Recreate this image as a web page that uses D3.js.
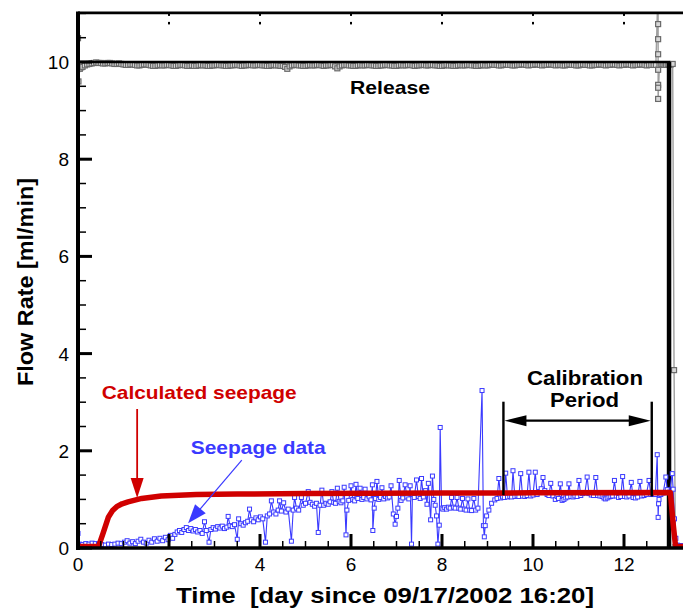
<!DOCTYPE html>
<html>
<head>
<meta charset="utf-8">
<script src="https://cdn.jsdelivr.net/npm/d3@7"></script>
<style>
  html, body { margin: 0; padding: 0; background: #fff; }
  svg { display: block; }
  text { font-family: "Liberation Sans", Arial, Helvetica, sans-serif; }
</style>
</head>
<body>
<svg id="chart" width="683" height="610"></svg>
<script>
// ---- data -------------------------------------------------------------
const xMajorTicks = [0, 2, 4, 6, 8, 10, 12];
const yMajorTicks = [0, 2, 4, 6, 8, 10];
const topTicks = [2, 4, 6, 8, 10, 12];

// measured seepage [day, ml/min]
const seepageData = [
  [0.00,0.30],[0.03,0.08],[0.10,0.07],[0.17,0.09],[0.24,0.08],[0.31,0.10],[0.38,0.09],[0.45,0.08],
  [0.52,0.07],[0.60,0.06],[0.67,0.08],[0.74,0.07],[0.81,0.08],[0.88,0.10],[0.95,0.09],[1.02,0.12],
  [1.08,0.15],[1.14,0.10],[1.20,0.13],[1.26,0.09],[1.32,0.14],[1.38,0.18],[1.44,0.12],[1.50,0.10],
  [1.56,0.16],[1.62,0.12],[1.68,0.19],[1.74,0.14],[1.80,0.20],[1.86,0.15],[1.92,0.22],[1.98,0.17],
  [2.03,0.26],[2.08,0.20],[2.13,0.28],[2.18,0.33],[2.23,0.36],[2.28,0.32],[2.33,0.38],[2.38,0.42],
  [2.43,0.36],[2.48,0.40],[2.53,0.35],[2.58,0.38],[2.63,0.33],[2.68,0.36],[2.73,0.30],[2.78,0.54],
  [2.82,0.36],[2.88,0.12],[2.92,0.38],[2.97,0.42],[3.02,0.39],[3.07,0.44],[3.12,0.41],[3.17,0.45],
  [3.22,0.40],[3.27,0.43],[3.30,0.65],[3.34,0.46],[3.39,0.44],[3.44,0.48],[3.50,0.18],[3.53,0.60],
  [3.58,0.50],[3.63,0.47],[3.68,0.52],[3.73,0.55],[3.77,0.80],[3.81,0.58],[3.86,0.54],[3.91,0.62],
  [3.96,0.58],[4.01,0.64],[4.06,0.60],[4.12,0.12],[4.16,0.66],[4.21,0.70],[4.25,0.97],[4.30,0.74],
  [4.35,0.70],[4.40,0.78],[4.43,0.97],[4.47,0.76],[4.52,0.93],[4.57,0.74],[4.62,0.80],[4.69,0.14],
  [4.73,0.78],[4.76,1.04],[4.80,0.82],[4.85,0.78],[4.91,1.04],[4.95,0.88],[5.00,0.92],[5.06,1.16],
  [5.10,0.94],[5.15,0.90],[5.20,0.86],[5.24,0.92],[5.28,0.32],[5.32,0.88],[5.36,1.19],[5.40,0.88],
  [5.45,0.92],[5.50,0.90],[5.54,0.95],[5.58,1.16],[5.62,0.94],[5.66,0.92],[5.70,1.23],[5.74,0.96],
  [5.78,0.93],[5.82,0.97],[5.85,1.25],[5.89,0.27],[5.91,0.78],[5.95,0.98],[6.00,1.28],[6.04,1.00],
  [6.08,0.97],[6.11,1.31],[6.15,1.02],[6.20,1.23],[6.24,1.00],[6.28,1.04],[6.31,1.21],[6.35,1.01],
  [6.40,1.05],[6.44,0.99],[6.47,1.30],[6.48,0.36],[6.51,0.82],[6.54,1.02],[6.57,1.37],[6.61,1.00],
  [6.65,1.04],[6.68,1.24],[6.72,1.01],[6.76,1.06],[6.80,1.03],[6.84,1.05],[6.88,1.28],[6.93,0.70],
  [6.97,0.49],[7.00,0.65],[7.03,0.82],[7.06,1.39],[7.10,0.98],[7.14,1.03],[7.19,1.30],[7.23,1.05],
  [7.27,1.01],[7.30,1.28],[7.33,0.08],[7.35,1.10],[7.39,1.04],[7.44,1.40],[7.48,1.06],[7.52,1.02],
  [7.55,1.43],[7.59,1.05],[7.64,1.18],[7.67,0.90],[7.70,1.33],[7.75,0.58],[7.79,1.48],[7.82,1.00],
  [7.85,0.88],[7.88,0.66],[7.91,0.08],[7.94,0.47],[7.96,2.48],[7.99,0.82],[8.02,0.80],[8.06,0.83],
  [8.10,0.80],[8.14,0.84],[8.18,0.82],[8.21,1.04],[8.25,0.84],[8.29,0.82],[8.33,1.04],[8.37,0.82],
  [8.41,0.80],[8.45,1.02],[8.49,0.80],[8.53,0.78],[8.57,1.01],[8.61,0.78],[8.65,0.77],[8.70,1.02],
  [8.74,0.78],[8.79,0.82],[8.88,3.24],[8.91,0.46],[8.93,0.23],[8.95,0.46],[8.98,0.66],[9.03,0.78],
  [9.09,0.92],[9.16,0.99],[9.21,1.02],[9.25,1.43],[9.29,1.03],[9.33,1.05],[9.37,1.04],[9.40,1.54],
  [9.44,1.05],[9.49,1.06],[9.53,1.05],[9.56,1.59],[9.60,1.06],[9.65,1.07],[9.69,1.06],[9.73,1.53],
  [9.77,1.07],[9.82,1.06],[9.87,1.08],[9.91,1.56],[9.95,1.07],[10.00,1.09],[10.05,1.56],[10.09,1.10],
  [10.14,1.16],[10.18,1.22],[10.22,1.45],[10.26,1.18],[10.31,1.10],[10.35,1.08],[10.39,1.33],[10.44,1.07],
  [10.49,1.00],[10.53,1.06],[10.56,1.02],[10.60,1.32],[10.64,0.98],[10.68,1.00],[10.72,1.03],[10.76,1.05],
  [10.79,1.32],[10.83,1.06],[10.88,1.05],[10.92,1.07],[10.97,1.06],[11.01,1.39],[11.05,1.08],[11.09,1.12],
  [11.14,1.13],[11.19,1.46],[11.23,1.12],[11.28,1.09],[11.33,1.08],[11.38,1.45],[11.42,1.08],[11.47,1.07],
  [11.52,1.06],[11.56,1.03],[11.59,1.01],[11.63,1.03],[11.67,1.05],[11.71,1.06],[11.75,1.07],[11.79,1.39],
  [11.83,1.07],[11.88,1.04],[11.93,1.06],[11.97,1.47],[12.01,1.06],[12.06,1.05],[12.11,1.07],[12.16,1.35],
  [12.20,1.04],[12.25,1.03],[12.30,1.05],[12.35,1.37],[12.39,1.07],[12.44,1.08],[12.49,1.10],[12.55,1.39],
  [12.59,1.10],[12.64,1.12],[12.69,1.10],[12.73,1.92],[12.75,0.63],[12.76,0.91],[12.77,1.00],[12.81,1.10],
  [12.86,1.13],[12.92,1.46],[12.95,1.20],[13.00,1.15],[13.06,1.53],[13.08,1.21],[13.11,0.60],[13.14,0.20],
  [13.17,0.06],[13.22,0.05],[13.28,0.05]
];

// calculated seepage [day, ml/min]
const calculatedData = [
  [0.00,0.03],[0.45,0.03],[0.55,0.30],[0.67,0.64],[0.76,0.77],[0.85,0.85],[0.97,0.91],[1.10,0.95],
  [1.40,1.02],[1.83,1.07],[2.60,1.10],[3.50,1.11],[5.00,1.12],[8.00,1.13],[10.00,1.135],[13.02,1.14],
  [13.08,0.50],[13.13,0.06],[13.17,0.03],[13.30,0.03]
];

// nominal release rate [day, ml/min]
const releaseSet = [[0.00,10.0],[12.99,10.0],[12.99,0.0]];

// measured release [day, ml/min]
const releaseData = [
  [0.00,10.49],[0.01,9.60],[0.04,9.86],[0.07,9.89],[0.10,9.90],[0.15,9.93],[0.20,9.95],[0.25,9.96],
  [0.30,9.97],[0.35,9.98],[0.40,9.99],[0.45,9.98],[0.50,9.98],[0.55,9.97],[0.60,9.97],[0.65,9.98],
  [0.70,9.98],[0.75,9.97],[0.80,9.96],[0.85,9.96],[0.90,9.97],[0.95,9.96],[1.00,9.95],[1.05,9.94],
  [1.10,9.94],[1.15,9.95],[1.20,9.95],[1.25,9.94],[1.30,9.93],[1.35,9.93],[1.40,9.94],[1.45,9.95],
  [1.50,9.95],[1.55,9.94],[1.60,9.93],[1.65,9.92],[1.70,9.92],[1.75,9.93],[1.80,9.94],[1.85,9.93],
  [1.90,9.93],[1.95,9.94],[2.00,9.94],[2.05,9.93],[2.10,9.92],[2.15,9.92],[2.20,9.93],[2.25,9.94],
  [2.30,9.94],[2.35,9.93],[2.40,9.92],[2.45,9.92],[2.50,9.93],[2.55,9.92],[2.60,9.92],[2.65,9.93],
  [2.70,9.94],[2.75,9.93],[2.80,9.93],[2.85,9.92],[2.90,9.92],[2.95,9.93],[3.00,9.93],[3.05,9.94],
  [3.10,9.94],[3.15,9.93],[3.20,9.93],[3.25,9.92],[3.30,9.92],[3.35,9.93],[3.40,9.93],[3.45,9.94],
  [3.50,9.94],[3.55,9.93],[3.60,9.92],[3.65,9.93],[3.70,9.93],[3.75,9.94],[3.80,9.94],[3.85,9.93],
  [3.90,9.93],[3.95,9.94],[4.00,9.94],[4.05,9.93],[4.10,9.93],[4.15,9.92],[4.20,9.92],[4.25,9.93],
  [4.30,9.94],[4.35,9.93],[4.40,9.93],[4.45,9.92],[4.50,9.92],[4.55,9.90],[4.60,9.86],[4.65,9.91],
  [4.70,9.93],[4.75,9.94],[4.80,9.94],[4.85,9.93],[4.90,9.93],[4.95,9.92],[5.00,9.92],[5.05,9.93],
  [5.10,9.94],[5.15,9.93],[5.20,9.93],[5.25,9.94],[5.30,9.94],[5.35,9.93],[5.40,9.92],[5.45,9.93],
  [5.50,9.93],[5.55,9.94],[5.60,9.94],[5.65,9.91],[5.70,9.87],[5.75,9.91],[5.80,9.93],[5.85,9.94],
  [5.90,9.94],[5.95,9.93],[6.00,9.93],[6.05,9.92],[6.10,9.92],[6.15,9.93],[6.20,9.94],[6.25,9.93],
  [6.30,9.93],[6.35,9.94],[6.40,9.94],[6.45,9.93],[6.50,9.93],[6.55,9.92],[6.60,9.92],[6.65,9.93],
  [6.70,9.93],[6.75,9.94],[6.80,9.94],[6.85,9.93],[6.90,9.93],[6.95,9.92],[7.00,9.92],[7.05,9.93],
  [7.10,9.94],[7.15,9.93],[7.20,9.93],[7.25,9.94],[7.30,9.94],[7.35,9.93],[7.40,9.92],[7.45,9.93],
  [7.50,9.93],[7.55,9.94],[7.60,9.94],[7.65,9.93],[7.70,9.93],[7.75,9.94],[7.80,9.94],[7.85,9.93],
  [7.90,9.93],[7.95,9.92],[8.00,9.92],[8.05,9.93],[8.10,9.94],[8.15,9.93],[8.20,9.93],[8.25,9.92],
  [8.30,9.92],[8.35,9.93],[8.40,9.94],[8.45,9.93],[8.50,9.93],[8.55,9.94],[8.60,9.94],[8.65,9.93],
  [8.71,9.93],[8.75,9.92],[8.80,9.92],[8.85,9.93],[8.90,9.94],[8.95,9.93],[9.00,9.93],[9.05,9.94],
  [9.10,9.95],[9.15,9.94],[9.20,9.94],[9.25,9.93],[9.30,9.93],[9.35,9.94],[9.40,9.95],[9.45,9.94],
  [9.50,9.94],[9.55,9.93],[9.60,9.93],[9.65,9.94],[9.70,9.94],[9.75,9.95],[9.80,9.95],[9.85,9.94],
  [9.90,9.93],[9.95,9.94],[10.00,9.94],[10.05,9.95],[10.10,9.95],[10.15,9.94],[10.20,9.93],[10.25,9.94],
  [10.30,9.94],[10.35,9.95],[10.40,9.95],[10.45,9.94],[10.50,9.93],[10.55,9.94],[10.60,9.94],[10.65,9.93],
  [10.70,9.93],[10.75,9.94],[10.80,9.95],[10.85,9.94],[10.90,9.94],[10.95,9.93],[11.00,9.93],[11.05,9.94],
  [11.10,9.95],[11.15,9.94],[11.20,9.94],[11.25,9.93],[11.30,9.93],[11.35,9.94],[11.40,9.94],[11.45,9.95],
  [11.50,9.95],[11.55,9.94],[11.60,9.93],[11.65,9.94],[11.70,9.94],[11.75,9.95],[11.80,9.95],[11.85,9.94],
  [11.90,9.93],[11.95,9.94],[12.00,9.94],[12.05,9.95],[12.10,9.95],[12.15,9.94],[12.20,9.93],[12.25,9.94],
  [12.30,9.94],[12.35,9.95],[12.40,9.95],[12.45,9.94],[12.50,9.93],[12.55,9.94],[12.60,9.94],[12.65,9.94],
  [12.70,9.94],[12.75,11.60],[12.75,10.78],[12.75,10.47],[12.75,10.16],[12.75,9.84],[12.75,9.53],[12.75,9.47],
  [12.75,9.24],[12.78,9.94],[12.82,9.95],[12.85,9.95],[12.89,9.94],[12.92,9.94],[12.96,9.95],[13.00,9.95],
  [13.03,9.95],[13.07,9.96],[13.10,3.66],[13.13,0.02]
];

// calibration window [start day, end day]
const calibrationPeriod = [9.35, 12.61];

// ---- layout -----------------------------------------------------------
const svg = d3.select("#chart");
const plot = { left: 78, right: 683.15, top: 13.4, bottom: 548 };

const x = d3.scaleLinear().domain([0, 13.3]).range([plot.left, plot.right]);
const y = d3.scaleLinear().domain([0, 11]).range([plot.bottom, plot.top]);

svg.append("defs").append("clipPath").attr("id", "plotClip")
  .append("rect")
  .attr("x", plot.left).attr("y", plot.top)
  .attr("width", plot.right - plot.left + 5).attr("height", plot.bottom - plot.top);

const line = d3.line().x(d => x(d[0])).y(d => y(d[1]));
const data = svg.append("g").attr("clip-path", "url(#plotClip)");

// measured release: grey line with open squares
data.append("path").datum(releaseData)
  .attr("d", line).attr("fill", "none")
  .attr("stroke", "#a0a0a0").attr("stroke-width", 1.4);
data.append("g").selectAll("rect").data(releaseData.filter(d => d[1] < 11)).join("rect")
  .attr("x", d => x(d[0]) - 2.5).attr("y", d => y(d[1]) - 2.5)
  .attr("width", 5).attr("height", 5)
  .attr("fill", "#d8d8d8").attr("stroke", "#6a6a6a").attr("stroke-width", 1.2);

// nominal release
data.append("path").datum(releaseSet)
  .attr("d", line).attr("fill", "none")
  .attr("stroke", "#000").attr("stroke-width", 2.6);
data.append("path").datum(releaseSet.slice(1))
  .attr("d", line).attr("fill", "none")
  .attr("stroke", "#000").attr("stroke-width", 4.5);

// measured seepage: blue line with open squares
data.append("path").datum(seepageData)
  .attr("d", line).attr("fill", "none")
  .attr("stroke", "#3a3aff").attr("stroke-width", 1.1);
data.append("g").selectAll("rect").data(seepageData).join("rect")
  .attr("x", d => x(d[0]) - 2).attr("y", d => y(d[1]) - 2)
  .attr("width", 4).attr("height", 4)
  .attr("fill", "#fff").attr("stroke", "#3a3aff").attr("stroke-width", 1);

// calculated seepage
data.append("path").datum(calculatedData)
  .attr("d", line).attr("fill", "none")
  .attr("stroke", "#d00000").attr("stroke-width", 5.5)
  .attr("stroke-linejoin", "round");

// ---- axes -------------------------------------------------------------
const axes = svg.append("g");
const minorX = d3.range(0, 13.3, 0.5).filter(v => !xMajorTicks.includes(v));
const minorY = d3.range(0, 11.01, 0.5).filter(v => !yMajorTicks.includes(v));

// x ticks (inward)
axes.selectAll(".xmaj").data(xMajorTicks).join("line")
  .attr("x1", d => x(d)).attr("x2", d => x(d))
  .attr("y1", plot.bottom).attr("y2", plot.bottom - 14)
  .attr("stroke", "#000").attr("stroke-width", 3);
axes.selectAll(".xmin").data(minorX).join("line")
  .attr("x1", d => x(d)).attr("x2", d => x(d))
  .attr("y1", plot.bottom).attr("y2", plot.bottom - 7)
  .attr("stroke", "#000").attr("stroke-width", 1.5);
// y ticks (inward)
axes.selectAll(".ymaj").data(yMajorTicks).join("line")
  .attr("x1", plot.left).attr("x2", plot.left + 14)
  .attr("y1", d => y(d)).attr("y2", d => y(d))
  .attr("stroke", "#000").attr("stroke-width", 3);
axes.selectAll(".ymin").data(minorY).join("line")
  .attr("x1", plot.left).attr("x2", plot.left + 8)
  .attr("y1", d => y(d)).attr("y2", d => y(d))
  .attr("stroke", "#000").attr("stroke-width", 1.5);
// top axis tick marks
topTicks.forEach(t => {
  axes.append("rect").attr("x", x(t) - 1).attr("y", plot.top).attr("width", 2).attr("height", 2.5).attr("fill", "#000");
  axes.append("rect").attr("x", x(t) - 1).attr("y", plot.top + 8.5).attr("width", 2).attr("height", 2.5).attr("fill", "#000");
});

// frame
axes.append("line").attr("x1", plot.left).attr("x2", 683).attr("y1", plot.top - 0.5).attr("y2", plot.top - 0.5)
  .attr("stroke", "#000").attr("stroke-width", 2.6);
axes.append("line").attr("x1", plot.left).attr("x2", plot.left).attr("y1", plot.top - 1.8).attr("y2", plot.bottom + 2)
  .attr("stroke", "#000").attr("stroke-width", 4);
axes.append("line").attr("x1", plot.left - 2).attr("x2", 683).attr("y1", plot.bottom).attr("y2", plot.bottom)
  .attr("stroke", "#000").attr("stroke-width", 3.5);

// tick labels
axes.selectAll(".xl").data(xMajorTicks).join("text")
  .attr("x", d => x(d)).attr("y", 571)
  .attr("text-anchor", "middle").attr("font-size", 19).text(d => d);
axes.selectAll(".yl").data(yMajorTicks).join("text")
  .attr("x", 69).attr("y", d => y(d) + 7)
  .attr("text-anchor", "end").attr("font-size", 19).text(d => d);

// axis titles
svg.append("text").attr("x", 176).attr("y", 603)
  .attr("font-size", 22).attr("font-weight", "bold")
  .attr("textLength", 418).attr("lengthAdjust", "spacingAndGlyphs")
  .attr("xml:space", "preserve")
  .text("Time  [day since 09/17/2002 16:20]");
svg.append("text").attr("transform", "translate(33,386) rotate(-90)")
  .attr("font-size", 22).attr("font-weight", "bold")
  .attr("textLength", 208).attr("lengthAdjust", "spacingAndGlyphs")
  .text("Flow Rate [ml/min]");

// ---- annotations ------------------------------------------------------
const ann = svg.append("g");
function arrowHead(tip, angle, len, half, color) {
  // triangle pointing along "angle" (radians) with its point at tip
  const [tx, ty] = tip;
  const bx = tx - len * Math.cos(angle), by = ty - len * Math.sin(angle);
  const px = -Math.sin(angle) * half, py = Math.cos(angle) * half;
  ann.append("path")
    .attr("d", `M${tx},${ty}L${bx + px},${by + py}L${bx - px},${by - py}Z`)
    .attr("fill", color);
}

// Release label
ann.append("text").attr("x", 350).attr("y", 94)
  .attr("font-size", 19).attr("font-weight", "bold")
  .attr("textLength", 80).attr("lengthAdjust", "spacingAndGlyphs").text("Release");

// Calculated seepage label and arrow
ann.append("text").attr("x", 101.7).attr("y", 399.3).attr("fill", "#d00000")
  .attr("font-size", 19).attr("font-weight", "bold")
  .attr("textLength", 195).attr("lengthAdjust", "spacingAndGlyphs").text("Calculated seepage");
{
  const p0 = [x(1.30), y(2.86)], p1 = [x(1.30), y(1.03)];
  ann.append("line").attr("x1", p0[0]).attr("y1", p0[1]).attr("x2", p1[0]).attr("y2", p1[1] - 15)
    .attr("stroke", "#d00000").attr("stroke-width", 1.8);
  arrowHead(p1, Math.PI / 2, 20, 6.5, "#d00000");
}

// Seepage data label and arrow
ann.append("text").attr("x", 190.7).attr("y", 454).attr("fill", "#3a3aff")
  .attr("font-size", 19).attr("font-weight", "bold")
  .attr("textLength", 135).attr("lengthAdjust", "spacingAndGlyphs").text("Seepage data");
{
  const p0 = [x(3.6), y(1.81)], p1 = [x(2.42), y(0.51)];
  const ang = Math.atan2(p1[1] - p0[1], p1[0] - p0[0]);
  ann.append("line").attr("x1", p0[0]).attr("y1", p0[1])
    .attr("x2", p1[0] - 14 * Math.cos(ang)).attr("y2", p1[1] - 14 * Math.sin(ang))
    .attr("stroke", "#3a3aff").attr("stroke-width", 1.2);
  arrowHead(p1, ang, 19, 7, "#3a3aff");
}

// Calibration period
{
  const [c0, c1] = calibrationPeriod;
  const yTop = 401.7, yArr = 420.7;
  ann.append("line").attr("x1", x(c0)).attr("x2", x(c0)).attr("y1", yTop).attr("y2", y(1.09))
    .attr("stroke", "#000").attr("stroke-width", 2.4);
  ann.append("line").attr("x1", x(c1)).attr("x2", x(c1)).attr("y1", yTop).attr("y2", y(1.06))
    .attr("stroke", "#000").attr("stroke-width", 2.4);
  ann.append("line").attr("x1", x(c0) + 18).attr("x2", x(c1) - 18).attr("y1", yArr).attr("y2", yArr)
    .attr("stroke", "#000").attr("stroke-width", 2.2);
  arrowHead([x(c0) + 1, yArr], Math.PI, 22, 5.5, "#000");
  arrowHead([x(c1) - 1, yArr], 0, 22, 5.5, "#000");
  ann.append("text").attr("x", 527).attr("y", 385)
    .attr("font-size", 20).attr("font-weight", "bold")
    .attr("textLength", 116).attr("lengthAdjust", "spacingAndGlyphs").text("Calibration");
  ann.append("text").attr("x", 550).attr("y", 407)
    .attr("font-size", 20).attr("font-weight", "bold")
    .attr("textLength", 69).attr("lengthAdjust", "spacingAndGlyphs").text("Period");
}
</script>
</body>
</html>
